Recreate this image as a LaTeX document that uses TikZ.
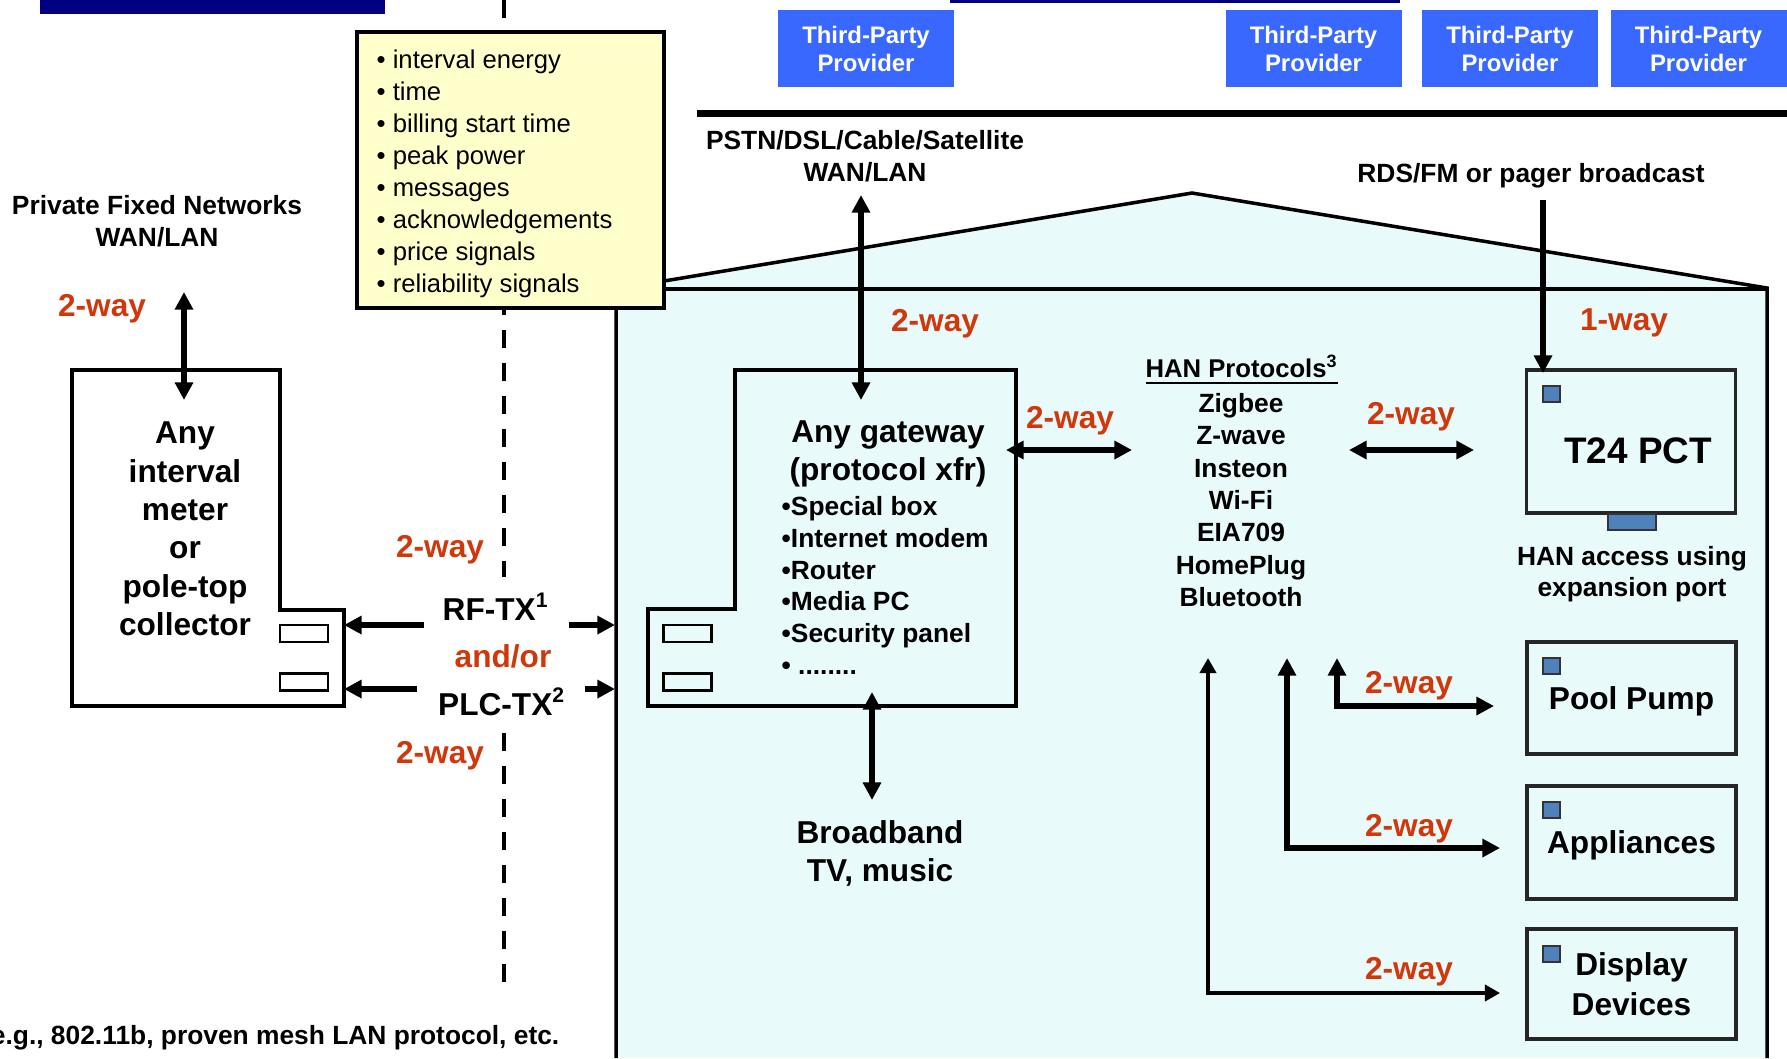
\documentclass[tikz,border=0pt]{standalone}
\usepackage{fontspec}
\setmainfont{Liberation Sans}
\usetikzlibrary{arrows.meta}
\definecolor{wayred}{RGB}{208,56,12}
\definecolor{provblue}{RGB}{56,104,255}
\definecolor{navy}{RGB}{0,0,128}
\definecolor{notefill}{RGB}{255,255,204}
\definecolor{housefill}{RGB}{233,250,250}
\definecolor{ledblue}{RGB}{79,129,189}
\tikzset{
    every node/.style={inner sep=0pt, align=center,
    	font=\bfseries\fontsize{7.5}{9.1}\selectfont},
    way/.style={text=wayred, text depth=0pt, font=\bfseries\fontsize{9}{11}\selectfont},
    big/.style={font=\bfseries\fontsize{9}{10.9}\selectfont},
    provider/.style={fill=provblue, text=white, minimum width=1.76cm, minimum height=0.77cm,
    	font=\bfseries\fontsize{6.8}{8}\selectfont},
    device/.style={draw=black!85, line width=1pt, minimum width=2.09cm},
    port/.style={draw, line width=0.8pt, minimum width=0.48cm, minimum height=0.17cm},
    led/.style={draw=black!80, fill=ledblue, line width=0.6pt, minimum width=0.17cm, minimum height=0.16cm},
    oneway/.style={line width=1.8pt, -{Triangle[length=5pt,width=5pt]}},
    twoway/.style={line width=1.8pt, {Triangle[length=5pt,width=5pt]}-{Triangle[length=5pt,width=5pt]}},
    thinway/.style={line width=1pt, {Triangle[length=4.3pt,width=4.6pt]}-{Triangle[length=4.3pt,width=4.6pt]}}
}

\begin{document}
\begin{tikzpicture}
	\useasboundingbox (0cm, 0cm) rectangle (17.87cm, -10.58cm);

	% house
	\fill[housefill] (6.16cm, -10.58cm) -- (6.16cm, -2.89cm) -- (11.92cm, -1.93cm)
		-- (17.67cm, -2.88cm) -- (17.67cm, -10.58cm) -- cycle;
	\draw[line width=1pt] (6.16cm, -10.58cm) -- (6.16cm, -2.89cm) -- (11.92cm, -1.93cm)
		-- (17.67cm, -2.88cm) -- (17.67cm, -10.58cm);
	\draw[line width=1pt] (6.16cm, -2.89cm) -- (17.67cm, -2.89cm);

	\fill[navy] (0.40cm, 0cm) rectangle (3.85cm, -0.14cm);
	\fill[navy] (9.50cm, 0cm) rectangle (14.00cm, -0.025cm);
	\draw[line width=2pt] (6.97cm, -1.13cm) -- (17.87cm, -1.13cm);

	\draw[line width=1.2pt, dash pattern=on 0.18cm off 0.15cm] (5.04cm, 0cm) -- (5.04cm, -5.77cm);
	\draw[line width=1.2pt, dash pattern=on 0.18cm off 0.15cm] (5.04cm, -7.33cm) -- (5.04cm, -9.93cm);

	\node (tp1) [provider] at (8.66cm, -0.485cm) {Third-Party\\Provider};
	\node (tp2) [provider] at (13.135cm, -0.485cm) {Third-Party\\Provider};
	\node (tp3) [provider] at (15.10cm, -0.485cm) {Third-Party\\Provider};
	\node (tp4) [provider] at (16.985cm, -0.485cm) {Third-Party\\Provider};

	\node (info) [draw, line width=1pt, fill=notefill, minimum width=3.07cm, minimum height=2.76cm]
		at (5.105cm, -1.70cm) {};
	\node (infolist) [anchor=west, align=left, font=\fontsize{7.3}{9.1}\selectfont] at (3.76cm, -1.735cm)
		{• interval energy\\• time\\• billing start time\\• peak power\\• messages\\%
		 • acknowledgements\\• price signals\\• reliability signals};

	% meter
	\draw[line width=1pt, fill=white] (0.72cm, -3.70cm) -- (2.80cm, -3.70cm) -- (2.80cm, -6.10cm)
		-- (3.44cm, -6.10cm) -- (3.44cm, -7.06cm) -- (0.72cm, -7.06cm) -- cycle;
	\node (meter) [big] at (1.85cm, -5.29cm) {Any\\interval\\meter\\or\\pole-top\\collector};
	\node (mport1) [port, fill=white] at (3.04cm, -6.335cm) {};
	\node (mport2) [port, fill=white] at (3.04cm, -6.82cm) {};

	% gateway
	\draw[line width=1pt] (7.35cm, -3.70cm) -- (10.16cm, -3.70cm) -- (10.16cm, -7.06cm)
		-- (6.48cm, -7.06cm) -- (6.48cm, -6.09cm) -- (7.35cm, -6.09cm) -- cycle;
	\node (gwtitle) [font=\bfseries\fontsize{9}{10.8}\selectfont] at (8.88cm, -4.54cm) {Any gateway\\(protocol xfr)};
	\node (gwlist) [anchor=west, align=left, font=\bfseries\fontsize{7.5}{9}\selectfont] at (7.81cm, -5.855cm)
		{•Special box\\•Internet modem\\•Router\\•Media PC\\•Security panel\\• ........};
	\node (gport1) [port] at (6.875cm, -6.335cm) {};
	\node (gport2) [port] at (6.875cm, -6.82cm) {};

	\node (hanhead) [font=\bfseries\fontsize{7.3}{9}\selectfont] at (12.42cm, -3.70cm) {\underline{HAN Protocols\textsuperscript{3}}};
	\node (hanlist) [font=\bfseries\fontsize{7.5}{9.2}\selectfont] at (12.41cm, -5.00cm)
		{Zigbee\\Z-wave\\Insteon\\Wi-Fi\\EIA709\\HomePlug\\Bluetooth};

	% devices
	\node (t24) [device, minimum height=1.43cm] at (16.31cm, -4.415cm) {};
	\node (t24txt) [font=\bfseries\fontsize{10.5}{12}\selectfont] at (16.38cm, -4.51cm) {T24 PCT};
	\node (t24led) [led] at (15.515cm, -3.94cm) {};
	\node (expport) [led, minimum width=0.48cm] at (16.32cm, -5.22cm) {};
	\node (hanacc) [font=\bfseries\fontsize{7.5}{8.8}\selectfont] at (16.32cm, -5.745cm) {HAN access using\\expansion port};
	\node (pool) [device, big, text depth=0pt, minimum height=1.12cm] at (16.315cm, -6.98cm) {Pool Pump};
	\node (poolled) [led] at (15.515cm, -6.66cm) {};
	\node (appl) [device, big, text depth=0pt, minimum height=1.13cm] at (16.315cm, -8.425cm) {Appliances};
	\node (applled) [led] at (15.515cm, -8.10cm) {};
	\node (disp) [device, minimum height=1.10cm, font=\bfseries\fontsize{9}{11.2}\selectfont]
		at (16.315cm, -9.84cm) {Display\\Devices};
	\node (displed) [led] at (15.515cm, -9.54cm) {};

	\node (pfn) at (1.57cm, -2.21cm) {Private Fixed Networks\\WAN/LAN};
	\node (pstn) at (8.65cm, -1.56cm) {PSTN/DSL/Cable/Satellite\\WAN/LAN};
	\node (rds) [text depth=0pt] at (15.31cm, -1.73cm) {RDS/FM or pager broadcast};
	\node (rftx) [big] at (4.96cm, -6.07cm) {RF-TX\textsuperscript{1}};
	\node (andor) [way] at (5.03cm, -6.565cm) {and/or};
	\node (plctx) [big] at (5.02cm, -7.02cm) {PLC-TX\textsuperscript{2}};
	\node (bband) [font=\bfseries\fontsize{9}{10.8}\selectfont] at (8.80cm, -8.53cm) {Broadband\\TV, music};
	\node (note) [anchor=east] at (5.60cm, -10.38cm) {e.g., 802.11b, proven mesh LAN protocol, etc.};

	\node (w1) [way] at (1.02cm, -3.05cm) {2-way};
	\node (w2) [way] at (4.40cm, -5.46cm) {2-way};
	\node (w3) [way] at (4.40cm, -7.52cm) {2-way};
	\node (w4) [way] at (9.35cm, -3.20cm) {2-way};
	\node (w5) [way] at (16.24cm, -3.20cm) {1-way};
	\node (w6) [way] at (10.70cm, -4.17cm) {2-way};
	\node (w7) [way] at (14.11cm, -4.13cm) {2-way};
	\node (w8) [way] at (14.09cm, -6.82cm) {2-way};
	\node (w9) [way] at (14.09cm, -8.25cm) {2-way};
	\node (w10) [way] at (14.09cm, -9.68cm) {2-way};

	\coordinate (pfnTip) at (1.84cm, -2.92cm);
	\coordinate (meterTop) at (1.84cm, -4.00cm);
	\coordinate (rfA) at (4.24cm, -6.25cm);
	\coordinate (rfB) at (3.44cm, -6.25cm);
	\coordinate (rfC) at (5.69cm, -6.25cm);
	\coordinate (rfD) at (6.15cm, -6.25cm);
	\coordinate (plcA) at (4.17cm, -6.89cm);
	\coordinate (plcB) at (3.44cm, -6.89cm);
	\coordinate (plcC) at (5.85cm, -6.89cm);
	\coordinate (plcD) at (6.15cm, -6.89cm);
	\coordinate (wanTip) at (8.61cm, -1.95cm);
	\coordinate (gwTop) at (8.61cm, -4.00cm);
	\coordinate (gwRight) at (10.06cm, -4.50cm);
	\coordinate (hanLeft) at (11.32cm, -4.50cm);
	\coordinate (hanRight) at (13.49cm, -4.50cm);
	\coordinate (t24Left) at (14.74cm, -4.50cm);
	\coordinate (rdsTop) at (15.43cm, -2.00cm);
	\coordinate (t24Top) at (15.43cm, -3.73cm);
	\coordinate (gwBottom) at (8.72cm, -6.92cm);
	\coordinate (bbTop) at (8.72cm, -8.00cm);
	\coordinate (hanA) at (12.08cm, -6.58cm);
	\coordinate (hanB) at (12.87cm, -6.58cm);
	\coordinate (hanC) at (13.37cm, -6.58cm);
	\coordinate (dispIn) at (15.00cm, -9.93cm);
	\coordinate (applIn) at (15.00cm, -8.48cm);
	\coordinate (poolIn) at (14.94cm, -7.06cm);

	\draw[twoway] (pfnTip) -- (meterTop);
	\draw[oneway] (rfA) -- (rfB); \draw[oneway] (rfC) -- (rfD);
	\draw[oneway] (plcA) -- (plcB); \draw[oneway] (plcC) -- (plcD);
	\draw[twoway] (wanTip) -- (gwTop);
	\draw[twoway] (gwRight) -- (hanLeft);
	\draw[twoway] (hanRight) -- (t24Left);
	\draw[oneway] (rdsTop) -- (t24Top);
	\draw[twoway] (gwBottom) -- (bbTop);
	\draw[thinway] (hanA) |- (dispIn);
	\draw[twoway] (hanB) |- (applIn);
	\draw[twoway] (hanC) |- (poolIn);
\end{tikzpicture}
\end{document}
